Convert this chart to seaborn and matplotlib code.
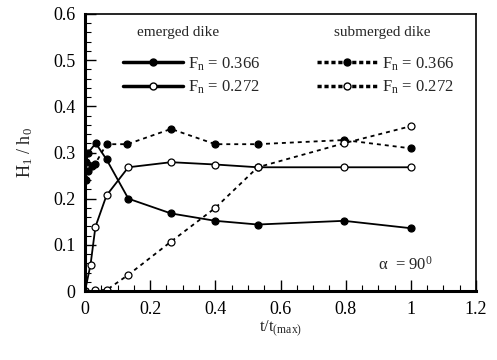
import matplotlib
matplotlib.use("Agg")
import matplotlib.pyplot as plt
from matplotlib.lines import Line2D
from matplotlib.ticker import MultipleLocator
import seaborn as sns
import pandas as pd

# Emerged dike, Fn = 0.366 (filled markers, solid)
t_em366 = [0, 0.004, 0.01, 0.033, 0.066, 0.133, 0.264, 0.40, 0.53, 0.795, 1.0]
h_em366 = [0, 0.28, 0.30, 0.32, 0.285, 0.20, 0.168, 0.152, 0.144, 0.152, 0.136]
# Emerged dike, Fn = 0.272 (open markers, solid)
t_em272 = [0, 0.017, 0.032, 0.066, 0.133, 0.264, 0.40, 0.53, 0.795, 1.0]
h_em272 = [0, 0.057, 0.139, 0.207, 0.268, 0.279, 0.274, 0.268, 0.268, 0.268]
# Submerged dike, Fn = 0.366 (filled markers, dashed)
t_sub366 = [0, 0.003, 0.01, 0.02, 0.031, 0.066, 0.13, 0.264, 0.40, 0.53, 0.795, 1.0]
h_sub366 = [0, 0.24, 0.26, 0.27, 0.275, 0.318, 0.318, 0.351, 0.318, 0.318, 0.327, 0.309]
# Submerged dike, Fn = 0.272 (open markers, dashed)
t_sub272 = [0, 0.031, 0.066, 0.133, 0.264, 0.40, 0.53, 0.795, 1.0]
h_sub272 = [0, 0.002, 0.002, 0.035, 0.107, 0.18, 0.268, 0.32, 0.357]

legend_titles = ["emerged dike", "submerged dike"]
legend_labels = [r"F$_{\mathrm{n}}$ = 0.366", r"F$_{\mathrm{n}}$ = 0.272"]

sns.set_theme(style="white")
plt.rcParams["font.family"] = ["Liberation Serif", "DejaVu Serif"]
plt.rcParams["mathtext.fontset"] = "custom"
plt.rcParams["mathtext.rm"] = "Liberation Serif"
plt.rcParams["mathtext.it"] = "Liberation Serif"

fig = plt.figure(figsize=(4.97, 3.6), dpi=100)
ax = fig.add_axes([85/497, 69/360, 391/497, 277/360])

series = [
    (t_em366, h_em366, "-", "black"),
    (t_em272, h_em272, "-", "white"),
    (t_sub366, h_sub366, (0, (2.2, 2.2)), "black"),
    (t_sub272, h_sub272, (0, (2.2, 2.2)), "white"),
]
for t, h, ls, mfc in series:
    df = pd.DataFrame({"t": t, "h": h})
    sns.lineplot(data=df, x="t", y="h", ax=ax, color="black", lw=1.3,
                 linestyle=ls, marker="o", markersize=5, markerfacecolor=mfc,
                 markeredgecolor="black", markeredgewidth=0.9, sort=False)

ax.set_xlim(0, 1.2)
ax.set_ylim(0, 0.6)
ax.xaxis.set_minor_locator(MultipleLocator(0.05))
ax.yaxis.set_minor_locator(MultipleLocator(0.02))
ax.set_xticks([0, 0.2, 0.4, 0.6, 0.8, 1.0, 1.2])
ax.set_xticklabels(["0", "0.2", "0.4", "0.6", "0.8", "1", "1.2"])
ax.set_yticks([0, 0.1, 0.2, 0.3, 0.4, 0.5, 0.6])
ax.set_yticklabels(["0", "0.1", "0.2", "0.3", "0.4", "0.5", "0.6"])
ax.tick_params(which="both", direction="in", labelsize=13, colors="black",
               bottom=True, left=True, top=False, right=False)
ax.tick_params(which="major", length=8, width=1)
ax.tick_params(which="minor", length=4, width=0.8)
ax.tick_params(axis="x", pad=7)
ax.tick_params(axis="y", pad=7)
for s in ["left", "bottom"]:
    ax.spines[s].set_linewidth(2.2)
    ax.spines[s].set_color("black")
for s in ["top", "right"]:
    ax.spines[s].set_linewidth(1.2)
    ax.spines[s].set_color("black")

ax.set_xlabel(r"t/t$_{\mathrm{(max)}}$", fontsize=12, labelpad=1)
ax.set_ylabel(r"H$_{\mathrm{1}}$ / h$_{\mathrm{0}}$", fontsize=13, labelpad=13)

h1 = [Line2D([], [], color="black", lw=2.5, marker="o", ms=5, mfc="black", mec="black"),
      Line2D([], [], color="black", lw=2.5, marker="o", ms=5, mfc="white", mec="black")]
h2 = [Line2D([], [], color="black", lw=2.5, ls=(0, (1.2, 0.8)), marker="o", ms=5, mfc="black", mec="black"),
      Line2D([], [], color="black", lw=2.5, ls=(0, (1.2, 0.8)), marker="o", ms=5, mfc="white", mec="black")]
leg1 = ax.legend(h1, legend_labels, loc="upper left",
                 bbox_to_anchor=(0.06, 0.905), frameon=False, fontsize=12,
                 handlelength=3.6, handletextpad=0.3, labelspacing=0.35)
ax.add_artist(leg1)
ax.legend(h2, legend_labels, loc="upper left",
          bbox_to_anchor=(0.556, 0.905), frameon=False, fontsize=12,
          handlelength=3.6, handletextpad=0.3, labelspacing=0.35)

ax.text(0.238, 0.935, legend_titles[0], transform=ax.transAxes,
        fontsize=11, ha="center", va="center")
ax.text(0.76, 0.935, legend_titles[1], transform=ax.transAxes,
        fontsize=11, ha="center", va="center")

ax.text(0.82, 0.095, r"$\alpha$  = 90$^{0}$", transform=ax.transAxes,
        fontsize=12, ha="center", va="center")

fig.savefig("out.png", dpi=100)
